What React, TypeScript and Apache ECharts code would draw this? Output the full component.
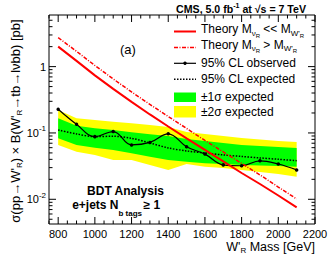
import React, { useEffect, useRef } from 'react';
import * as echarts from 'echarts';

const FONT = '"Liberation Sans", Arial, Helvetica, sans-serif';

// W'_R mass points [GeV]
const masses = [800, 900, 1000, 1100, 1200, 1300, 1400, 1500, 1600, 1700, 1800, 1900, 2000, 2100];
// Theory, M_nuR << M_W'R (solid red)
const theoryLight = [2.0, 1.22, 0.737, 0.461, 0.294, 0.19, 0.125, 0.0826, 0.0554, 0.0372, 0.0249, 0.017, 0.0114, 0.00757];
// Theory, M_nuR > M_W'R (dash-dot red)
const theoryHeavy = [2.74, 1.7, 1.04, 0.652, 0.415, 0.269, 0.177, 0.117, 0.0771, 0.0517, 0.0347, 0.0233, 0.0153, 0.0101];
// 95% CL observed
const observed = [0.228, 0.135, 0.088, 0.105, 0.066, 0.072, 0.097, 0.062, 0.048, 0.033, 0.032, 0.038, 0.034, 0.0277];
// 95% CL expected
const expected = [0.111, 0.0966, 0.0879, 0.0892, 0.0832, 0.0707, 0.0594, 0.0535, 0.0499, 0.0466, 0.0442, 0.042, 0.0401, 0.0382];
// +-1 sigma band
const oneSigmaUp = [0.1667, 0.1288, 0.1177, 0.111, 0.1025, 0.0955, 0.0902, 0.0812, 0.0757, 0.0707, 0.0659, 0.0637, 0.0615, 0.0594];
const oneSigmaDown = [0.0832, 0.0659, 0.06, 0.0554, 0.0494, 0.0439, 0.0392, 0.0369, 0.0349, 0.0341, 0.0329, 0.0323, 0.0318, 0.031];
// +-2 sigma band
const twoSigmaUp = [0.222, 0.1667, 0.157, 0.148, 0.14, 0.132, 0.123, 0.1035, 0.0966, 0.0902, 0.0841, 0.0798, 0.0757, 0.0731];
const twoSigmaDown = [0.0659, 0.0522, 0.0466, 0.0392, 0.0392, 0.0329, 0.0277, 0.0341, 0.031, 0.0297, 0.0277, 0.0258, 0.0241, 0.0219];

// axis ranges and tick values
const X_MIN = 750;
const X_MAX = 2200;
const X_LABEL_STEP = 200;
const X_MINOR_STEP = 50;
const Y_MIN = 0.00424;
const Y_MAX = 6;
const yDecades = [-3, -2, -1, 0];
const yMultipliers = [1, 2, 3, 4, 5, 6, 7, 8, 9];

const xTicks: number[] = [];
for (let v = X_MIN; v <= X_MAX; v += X_MINOR_STEP) xTicks.push(v);
const yTicks: number[] = [];
yDecades.forEach((d) => yMultipliers.forEach((m) => {
  const v = m * Math.pow(10, d);
  if (v > Y_MIN && v < Y_MAX) yTicks.push(v);
}));

const sub = { fontFamily: FONT, fontSize: 8, lineHeight: 8, padding: [8, 0, 0, 0], verticalAlign: 'middle' };
const subsub = { fontFamily: FONT, fontSize: 6, lineHeight: 6, padding: [13, 0, 0, 0], verticalAlign: 'middle' };
const sup = { fontFamily: FONT, fontSize: 8, lineHeight: 8, padding: [0, 0, 8, 0], verticalAlign: 'middle' };

function bandSeries(up: number[], down: number[], color: string) {
  return {
    type: 'custom',
    silent: true,
    data: [[masses[0], up[0]]],
    renderItem: (_p: any, api: any) => {
      const pts: number[][] = [];
      masses.forEach((m, i) => pts.push(api.coord([m, up[i]])));
      for (let i = masses.length - 1; i >= 0; i--) pts.push(api.coord([masses[i], down[i]]));
      return { type: 'polygon', shape: { points: pts }, style: { fill: color } };
    },
  };
}

export default function App() {
  const ref = useRef<HTMLDivElement>(null);
  useEffect(() => {
    document.body.style.margin = '0';
    const chart = echarts.init(ref.current!, null, { renderer: 'svg' });
    const legendText = (x: number, y: number, text: string) => ({
      type: 'text', x, y,
      style: {
        text, fontFamily: FONT, fontSize: 12, fill: '#000', align: 'left', verticalAlign: 'middle',
        rich: { s: sub, ss: subsub },
      },
    });
    const plainText = (x: number, y: number, text: string, size: number, weight: string, align: string) => ({
      type: 'text', x, y,
      style: { text, fontFamily: FONT, fontSize: size, fontWeight: weight, fill: '#000', align, verticalAlign: 'middle' },
    });
    const option: any = {
      animation: false,
      grid: { left: 49, right: 17, top: 15, bottom: 34, show: true, borderColor: '#000', borderWidth: 1, backgroundColor: 'transparent' },
      xAxis: {
        type: 'value', min: X_MIN, max: X_MAX, interval: X_MINOR_STEP,
        axisLine: { show: false }, axisTick: { show: false }, splitLine: { show: false },
        axisLabel: {
          color: '#000', fontFamily: FONT, fontSize: 11, margin: 4,
          formatter: (v: number) => (v % X_LABEL_STEP === 0 ? String(v) : ''),
        },
      },
      yAxis: {
        type: 'log', logBase: 10, min: Y_MIN, max: Y_MAX,
        axisLine: { show: false }, axisTick: { show: false }, splitLine: { show: false }, minorTick: { show: false },
        axisLabel: {
          color: '#000', fontFamily: FONT, fontSize: 11, margin: 3,
          formatter: (v: number) => {
            const l = Math.log10(v);
            const e = Math.round(l);
            if (Math.abs(l - e) > 1e-6) return '';
            if (e === 0) return '1';
            return '10{sup|' + e + '}';
          },
          rich: { sup },
        },
      },
      series: [
        bandSeries(twoSigmaUp, twoSigmaDown, '#ffff00'),
        bandSeries(oneSigmaUp, oneSigmaDown, '#00ff00'),
        {
          type: 'line', data: masses.map((m, i) => [m, expected[i]]), symbol: 'none', smooth: 0.3,
          lineStyle: { color: '#000', width: 1.5, type: [1.5, 1.5] },
        },
        {
          type: 'line', data: masses.map((m, i) => [m, observed[i]]), smooth: 0.4,
          symbol: 'circle', symbolSize: 3.5, itemStyle: { color: '#000' },
          lineStyle: { color: '#000', width: 1.2 },
        },
        {
          type: 'line', data: masses.map((m, i) => [m, theoryHeavy[i]]), symbol: 'none',
          lineStyle: { color: '#ff0000', width: 1.5, type: [4, 1.5, 1, 1.5] },
        },
        {
          type: 'line', data: masses.map((m, i) => [m, theoryLight[i]]), symbol: 'none',
          lineStyle: { color: '#ff0000', width: 2 },
        },
        {
          type: 'custom', silent: true,
          data: xTicks.map((v) => [v, 1]),
          renderItem: (params: any, api: any) => {
            const v = api.value(0);
            const cs = params.coordSys;
            const px = api.coord([v, 1])[0];
            const len = v % X_LABEL_STEP === 0 ? 7 : 3.5;
            const b = cs.y + cs.height;
            const st = { stroke: '#000', lineWidth: 1 };
            return {
              type: 'group', children: [
                { type: 'line', shape: { x1: px, y1: b, x2: px, y2: b - len }, style: st },
                { type: 'line', shape: { x1: px, y1: cs.y, x2: px, y2: cs.y + len }, style: st },
              ],
            };
          },
        },
        {
          type: 'custom', silent: true,
          data: yTicks.map((v) => [X_MIN, v]),
          renderItem: (params: any, api: any) => {
            const v = api.value(1);
            const cs = params.coordSys;
            const py = api.coord([X_MIN, v])[1];
            const l = Math.log10(v);
            const len = Math.abs(l - Math.round(l)) < 1e-6 ? 7 : 3.5;
            const r = cs.x + cs.width;
            const st = { stroke: '#000', lineWidth: 1 };
            return {
              type: 'group', children: [
                { type: 'line', shape: { x1: cs.x, y1: py, x2: cs.x + len, y2: py }, style: st },
                { type: 'line', shape: { x1: r, y1: py, x2: r - len, y2: py }, style: st },
              ],
            };
          },
        },
      ],
      graphic: { elements: [
        {
          type: 'text', x: 306, y: 9,
          style: {
            text: 'CMS, 5.0 fb{sp|-1} at √s = 7 TeV', fontFamily: FONT, fontSize: 10.6, fontWeight: 'bold',
            fill: '#000', align: 'right', verticalAlign: 'middle',
            rich: { sp: { fontFamily: FONT, fontSize: 7, fontWeight: 'bold', lineHeight: 7, padding: [0, 0, 7, 0], verticalAlign: 'middle' } },
          },
        },
        { type: 'line', shape: { x1: 174, y1: 31.5, x2: 196, y2: 31.5 }, style: { stroke: '#ff0000', lineWidth: 2 } },
        legendText(201, 29, 'Theory M{s|ν}{ss|R} << M{s|W\'}{ss|R}'),
        { type: 'line', shape: { x1: 174, y1: 47.5, x2: 196, y2: 47.5 }, style: { stroke: '#ff0000', lineWidth: 1.5, lineDash: [4, 1.5, 1, 1.5] } },
        legendText(201, 44.5, 'Theory M{s|ν}{ss|R} > M{s|W\'}{ss|R}'),
        { type: 'line', shape: { x1: 174, y1: 63.3, x2: 196, y2: 63.3 }, style: { stroke: '#000', lineWidth: 1.2 } },
        { type: 'circle', shape: { cx: 185, cy: 63.3, r: 1.7 }, style: { fill: '#000' } },
        legendText(201, 63.3, '95% CL observed'),
        { type: 'line', shape: { x1: 174, y1: 79.3, x2: 196, y2: 79.3 }, style: { stroke: '#000', lineWidth: 1.5, lineDash: [1.5, 1.5] } },
        legendText(201, 79.3, '95% CL expected'),
        { type: 'rect', shape: { x: 174, y: 92.5, width: 22, height: 9.5 }, style: { fill: '#00ff00' } },
        legendText(201, 96.7, '±1σ expected'),
        { type: 'rect', shape: { x: 174, y: 106, width: 22, height: 11.5 }, style: { fill: '#ffff00' } },
        legendText(201, 112, '±2σ expected'),
        plainText(120, 49, '(a)', 13, 'normal', 'left'),
        plainText(125.5, 190.5, 'BDT Analysis', 12, 'bold', 'center'),
        plainText(118.5, 204.8, 'e+jets N', 12, 'bold', 'right'),
        plainText(118.5, 213, 'b tags', 8, 'bold', 'left'),
        plainText(143.5, 204.8, '≥ 1', 12, 'bold', 'left'),
        {
          type: 'text', x: 315, y: 246.5,
          style: {
            text: 'W\'{s|R} Mass [GeV]', fontFamily: FONT, fontSize: 12.5, fill: '#000', align: 'right', verticalAlign: 'middle',
            rich: { s: sub },
          },
        },
        {
          type: 'text', x: 15, y: 121, rotation: Math.PI / 2,
          style: {
            text: 'σ(pp→W\'{s|R}) × B(W\'{s|R}→tb→lνbb) [pb]', fontFamily: FONT, fontSize: 13, fill: '#000', align: 'center', verticalAlign: 'middle',
            rich: { s: sub },
          },
        },
      ] },
    };
    chart.setOption(option);
    return () => chart.dispose();
  }, []);
  return <div ref={ref} style={{ width: 332, height: 258 }} />;
}
